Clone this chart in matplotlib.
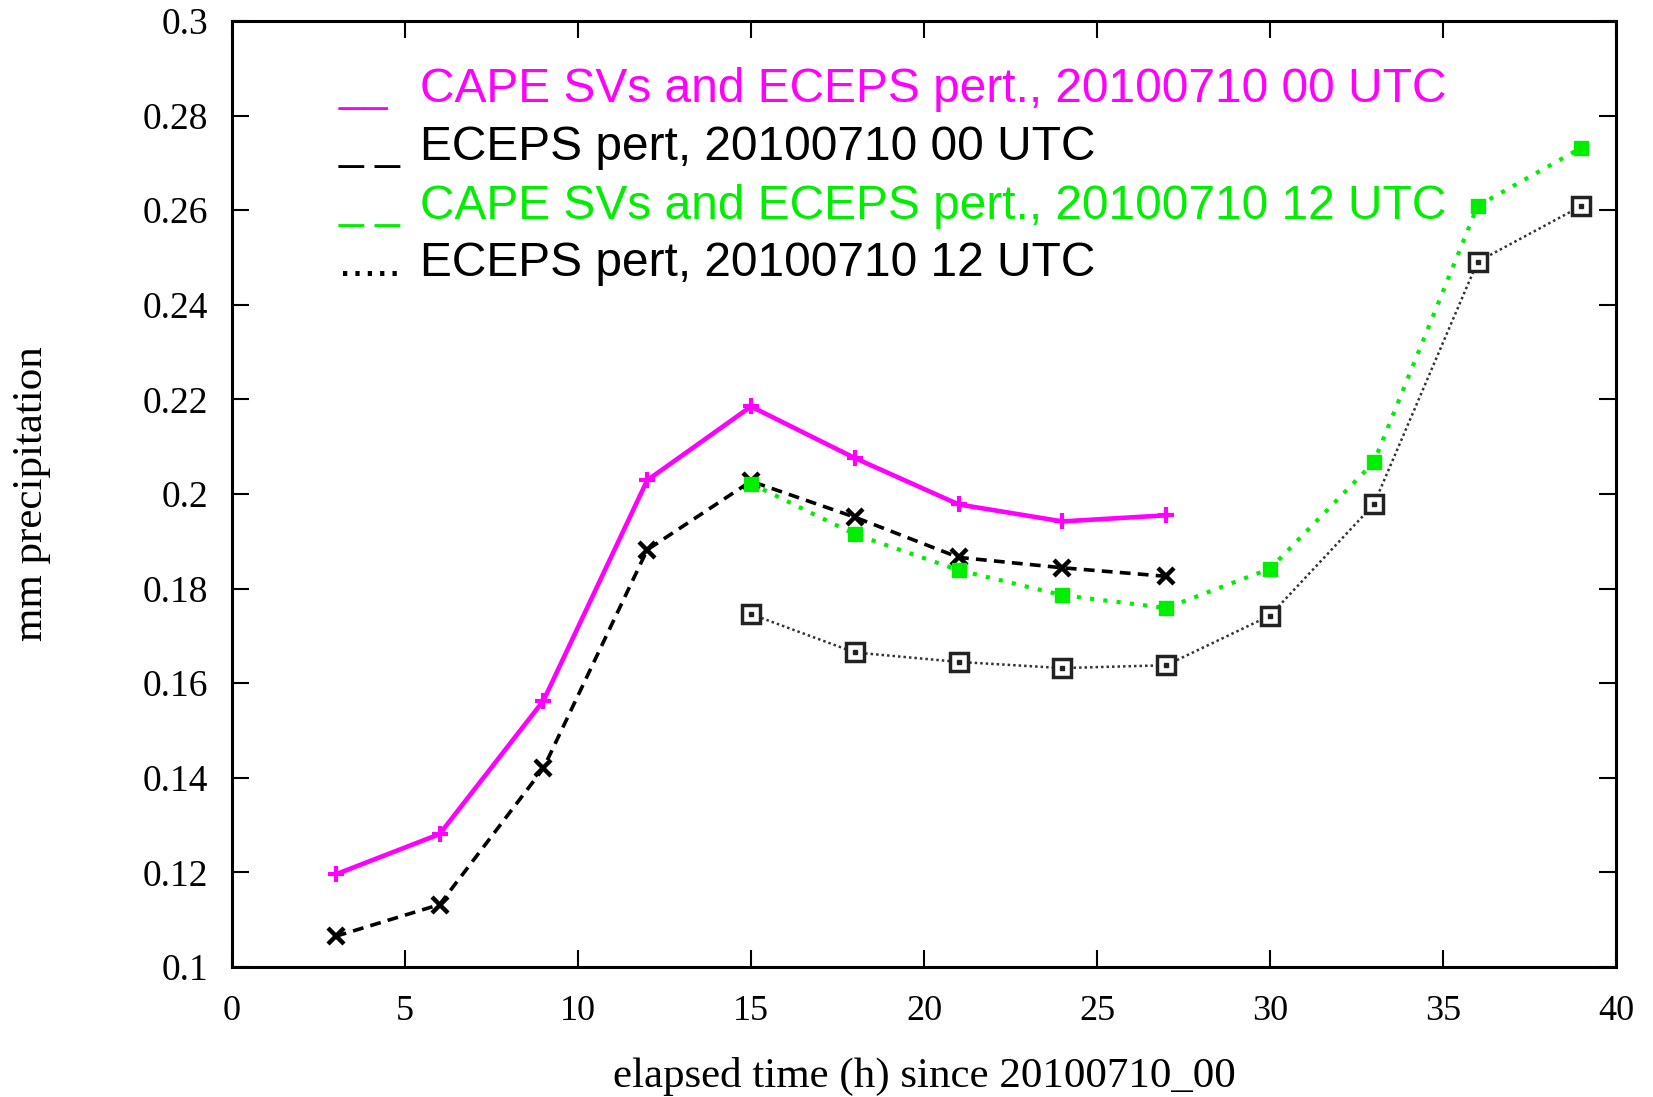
import matplotlib
matplotlib.use("Agg")
import matplotlib.pyplot as plt

W, H = 1653, 1097

# Data
hours_00 = [3, 6, 9, 12, 15, 18, 21, 24, 27]
cape_00 = [0.1196, 0.1281, 0.1563, 0.2029, 0.2185, 0.2076, 0.1978, 0.1942, 0.1955]
eceps_00 = [0.1065, 0.1132, 0.1420, 0.1882, 0.2027, 0.1951, 0.1866, 0.1844, 0.1826]
hours_12 = [15, 18, 21, 24, 27, 30, 33, 36, 39]
cape_12 = [0.2022, 0.1915, 0.1839, 0.1786, 0.1759, 0.1842, 0.2067, 0.2609, 0.2732]
eceps_12 = [0.1746, 0.1665, 0.1645, 0.1632, 0.1638, 0.1743, 0.1978, 0.2491, 0.2609]

legend_samples = ["__", "_ _", "_ _", "....."]
legend_labels = ["CAPE SVs and ECEPS pert., 20100710 00 UTC",
                 "ECEPS pert, 20100710 00 UTC",
                 "CAPE SVs and ECEPS pert., 20100710 12 UTC",
                 "ECEPS pert, 20100710 12 UTC"]
legend_colors = ["#ff00ff", "black", "#00ee00", "black"]

x_ticks = [0, 5, 10, 15, 20, 25, 30, 35, 40]
y_ticks = [0.1, 0.12, 0.14, 0.16, 0.18, 0.2, 0.22, 0.24, 0.26, 0.28, 0.3]
y_tick_labels = ["0.1", "0.12", "0.14", "0.16", "0.18", "0.2", "0.22", "0.24", "0.26", "0.28", "0.3"]

fig = plt.figure(figsize=(W / 100, H / 100), dpi=100)
left, right, top, bottom = 232, 1616, 21, 967
ax = fig.add_axes([left / W, 1 - bottom / H, (right - left) / W, (bottom - top) / H])

ax.plot(hours_00, cape_00, color="#ff00ff", lw=3.3, ls="-", marker="+", ms=12, mew=3)
ax.plot(hours_00, eceps_00, color="black", lw=2.6, ls=(0, (3, 2)), marker="x", ms=12, mew=3.2)
ax.plot(hours_12, cape_12, color="#00ee00", lw=3, ls=(0, (1, 2.2)), marker="s", ms=10, mew=1, mfc="#00ee00", mec="#00ee00")
ax.plot(hours_12, eceps_12, color="#333333", lw=1.8, ls=(0, (1, 1.2)), marker="s", ms=13, mew=2.5, mfc="white", mec="#222222")
ax.plot(hours_12, eceps_12, ls="none", marker="s", ms=3, mfc="#222222", mec="#222222")

ax.set_xlim(0, 40)
ax.set_ylim(0.1, 0.3)
ax.set_xticks(x_ticks)
ax.set_yticks(y_ticks)
ax.set_yticklabels(y_tick_labels)
serif = "Liberation Serif"
ax.tick_params(direction="in", length=12, width=1.5, top=True, right=True,
               labelfontfamily=serif)
ax.tick_params(axis="y", pad=17, labelsize=27)
ax.tick_params(axis="x", pad=20, labelsize=26)
for s in ax.spines.values():
    s.set_linewidth(2.2)

fig.text(32 / W, 1 - 494 / H, "mm precipitation", rotation=90, family=serif,
         fontsize=31, ha="center", va="center")
fig.text(924 / W, 1 - 1076 / H, "elapsed time (h) since 20100710_00", family=serif,
         fontsize=31, ha="center", va="center")

ys = [90, 148, 206, 264]
for yy, samp, lab, col in zip(ys, legend_samples, legend_labels, legend_colors):
    fig.text(339 / W, 1 - yy / H, samp, color=col, family=["Liberation Sans"],
             fontsize=32, ha="left", va="center")
    fig.text(420 / W, 1 - yy / H, lab, color=col, family=["Liberation Sans"],
             fontsize=34.5, ha="left", va="center")

fig.savefig("out.png", dpi=100)
